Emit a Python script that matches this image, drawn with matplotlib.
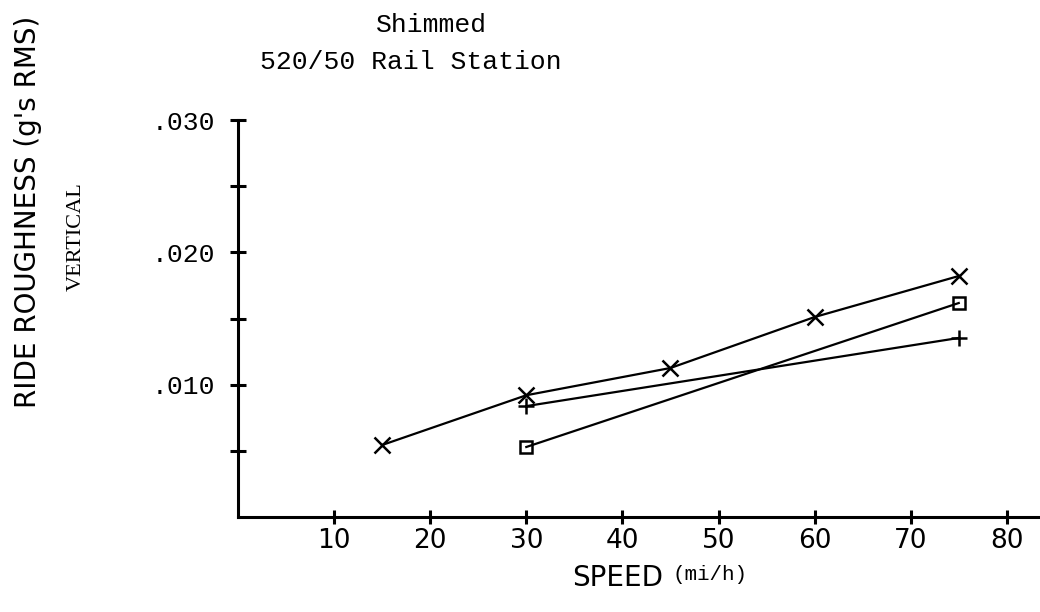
import matplotlib.pyplot as plt
from matplotlib.ticker import FixedLocator, FixedFormatter

# data (speed in mi/h, roughness in g's RMS)
speed_x = [15, 30, 45, 60, 75]
rough_x = [0.00544, 0.00920, 0.01126, 0.01511, 0.01821]

speed_sq = [30, 75]
rough_sq = [0.00529, 0.01617]

speed_plus = [30, 75]
rough_plus = [0.00838, 0.01353]

xticks = [10, 20, 30, 40, 50, 60, 70, 80]
yticks = [0.005, 0.010, 0.015, 0.020, 0.025, 0.030]
ylabels_shown = ['', '.010', '', '.020', '', '.030']

mono = ['Liberation Mono', 'DejaVu Sans Mono']
narrow = ['Liberation Sans Narrow', 'DejaVu Sans']

fig = plt.figure(figsize=(10.4, 6.12), dpi=100)
ax = fig.add_axes([238/1040, (612-517)/612, 1 - 238/1040, (517-120)/612])

lw = 1.6
ax.plot(speed_x, rough_x, color='black', lw=lw, marker='x', ms=11.5, mew=1.8, clip_on=False)
ax.plot(speed_sq, rough_sq, color='black', lw=lw, marker='s', ms=8, mew=1.8,
        mfc='none', clip_on=False)
ax.plot(speed_plus, rough_plus, color='black', lw=lw, marker='+', ms=12, mew=1.8, clip_on=False)

ax.set_xlim(0, (1040-238)/9.61)
ax.set_ylim(0, 0.030)

for s in ['top', 'right']:
    ax.spines[s].set_visible(False)
for s in ['left', 'bottom']:
    ax.spines[s].set_linewidth(2.2)

ax.xaxis.set_major_locator(FixedLocator(xticks))
ax.yaxis.set_major_locator(FixedLocator(yticks))
ax.yaxis.set_major_formatter(FixedFormatter(ylabels_shown))
ax.tick_params(axis='x', direction='inout', length=10, width=2.2, pad=3)
ax.tick_params(axis='y', direction='inout', length=11, width=2.2, pad=11)

for t in ax.get_xticklabels():
    t.set_family(narrow)
    t.set_fontsize(19)
for t in ax.get_yticklabels():
    t.set_family(mono)
    t.set_fontsize(19)

# titles
fig.text(432/1040, 1 - 25/612, 'Shimmed', family=mono, fontsize=19,
         ha='center', va='center')
fig.text(411/1040, 1 - 62/612, '520/50 Rail Station', family=mono, fontsize=19,
         ha='center', va='center')

# axis labels
fig.text(28/1040, 1 - 212/612, "RIDE ROUGHNESS (g's RMS)", family=narrow, fontsize=20,
         rotation=90, ha='center', va='center')
fig.text(76/1040, 1 - 237/612, 'VERTICAL', family=['Liberation Serif', 'DejaVu Serif'],
         fontsize=16, rotation=90, ha='center', va='center')
fig.text(663/1040, 1 - 578/612, 'SPEED', family=narrow, fontsize=20,
         ha='right', va='center')
fig.text(672/1040, 1 - 574/612, '(mi/h)', family=mono, fontsize=15,
         ha='left', va='center')

fig.savefig('out.png', dpi=100)
